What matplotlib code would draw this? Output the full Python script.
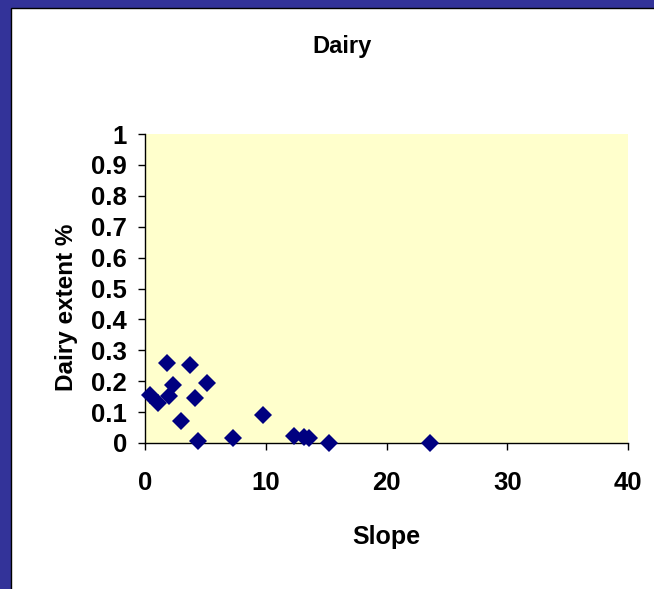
import matplotlib.pyplot as plt
from matplotlib.patches import Rectangle

plt.rcParams['font.family'] = ['Liberation Sans', 'DejaVu Sans']

slope = [0.4, 1.1, 1.8, 2.0, 2.3, 3.7, 4.1, 3.0, 5.1, 4.4, 7.3, 9.8, 12.3, 13.2, 13.6, 15.2, 23.6]
dairy = [0.155, 0.128, 0.26, 0.152, 0.189, 0.252, 0.146, 0.072, 0.195, 0.008, 0.017, 0.09, 0.024, 0.02, 0.015, 0.0, 0.0]

xticks = [0, 10, 20, 30, 40]
yticks = [0, 0.1, 0.2, 0.3, 0.4, 0.5, 0.6, 0.7, 0.8, 0.9, 1]
ylabels = ['0', '0.1', '0.2', '0.3', '0.4', '0.5', '0.6', '0.7', '0.8', '0.9', '1']

W, H = 654, 589
fig = plt.figure(figsize=(W / 100, H / 100), dpi=100)
fig.patch.set_facecolor('#333399')
fig.patches.append(Rectangle((11 / W, -0.1), 1.2, (H - 8) / H + 0.1, transform=fig.transFigure,
                             facecolor='white', edgecolor='black', linewidth=1, zorder=-10))

ax = fig.add_axes([145 / W, 1 - 443 / H, (628 - 145) / W, (443 - 134) / H])
ax.set_zorder(5)
ax.set_facecolor('#FFFFCC')
ax.plot(slope, dairy, linestyle='none', marker='D', markersize=8.7, color='#000080',
        markeredgewidth=0, clip_on=False, zorder=3)

ax.set_xlim(0, 40)
ax.set_ylim(0, 1)
ax.set_xticks(xticks)
ax.set_yticks(yticks)
ax.set_yticklabels(ylabels)
for s in ['top', 'right']:
    ax.spines[s].set_visible(False)
for s in ['left', 'bottom']:
    ax.spines[s].set_color('black')
    ax.spines[s].set_linewidth(1)

ax.tick_params(axis='both', direction='out', length=5, width=1, colors='black', labelsize=18.5)
ax.tick_params(axis='x', pad=15)
ax.tick_params(axis='y', pad=8)
for lab in ax.get_xticklabels() + ax.get_yticklabels():
    lab.set_fontweight('bold')

fig.text(342 / W, 1 - 47 / H, 'Dairy', ha='center', va='center', fontsize=17, fontweight='bold')
fig.text(386 / W, 1 - 537 / H, 'Slope', ha='center', va='center', fontsize=18, fontweight='bold')
fig.text(66 / W, 1 - 307 / H, 'Dairy extent %', ha='center', va='center', rotation=90,
         fontsize=17.5, fontweight='bold')

fig.savefig('out.png', dpi=100, facecolor=fig.get_facecolor())
